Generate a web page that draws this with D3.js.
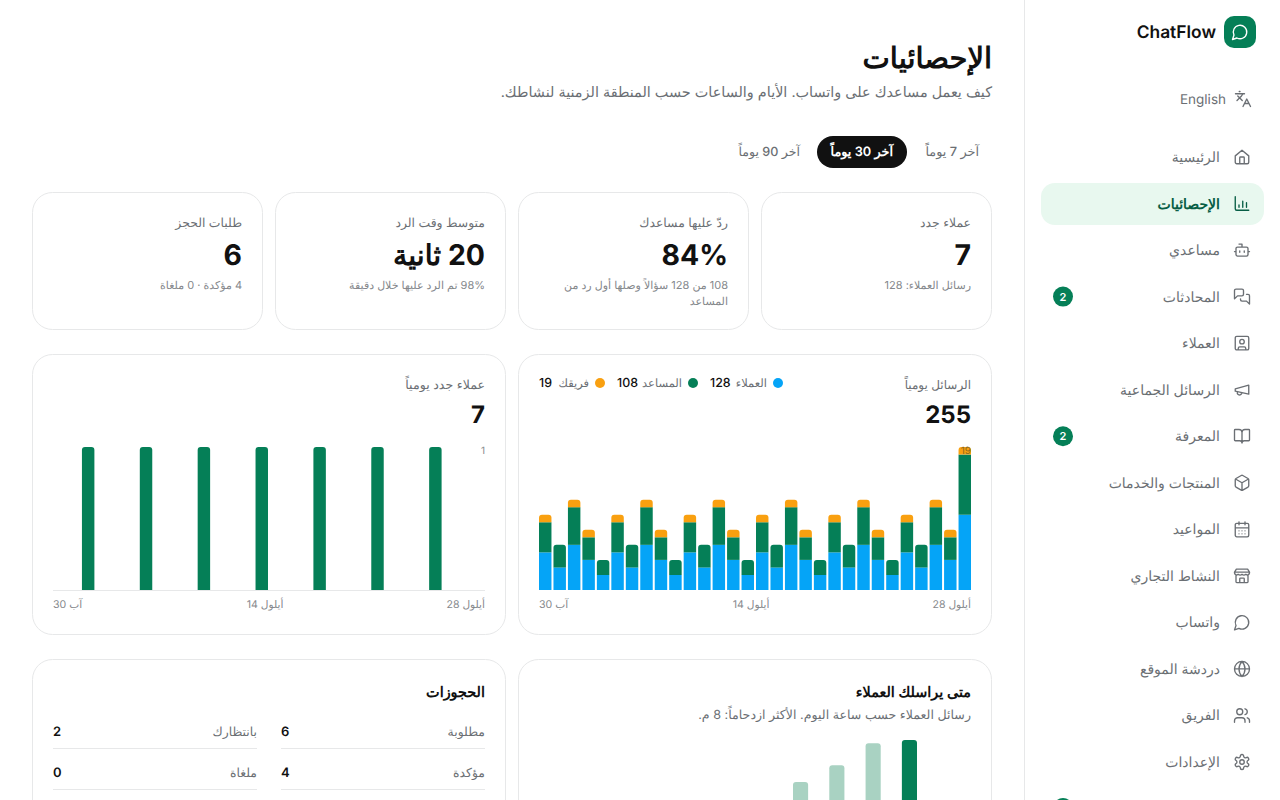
<!DOCTYPE html>
<html lang="ar"><head><meta charset="utf-8">
<script src="https://cdn.jsdelivr.net/npm/d3@7/dist/d3.min.js"></script>
<style>
html,body{margin:0;padding:0;width:1280px;height:800px;overflow:hidden;background:#fff}
#stage{display:block}
text{font-family:Inter,"Noto Sans",sans-serif;text-rendering:geometricPrecision}
</style></head><body><svg id="stage" width="1280" height="800" viewBox="0 0 1280 800"></svg>
<script>
// ---- data ----
const customers=[5,3,6,4,2,5,3,6,4,2,5,3,6,4,2,5,3,6,4,2,5,3,6,4,2,5,3,6,4,10];
const assistant=[4,3,5,3,2,4,3,5,3,2,4,3,5,3,2,4,3,5,3,2,4,3,5,3,2,4,3,5,3,8];
const team=[1,0,1,1,0,1,0,1,1,0,1,0,1,1,0,1,0,1,1,0,1,0,1,1,0,1,0,1,1,1];
const newCustomers=[0,0,1,0,0,0,1,0,0,0,1,0,0,0,1,0,0,0,1,0,0,0,1,0,0,0,1,0,0,0];
const dateTicks=["آب 30","أيلول 14","أيلول 28"];
const hourBars=[0.3,0.58,0.945,1];
const navLabels=["الرئيسية","الإحصائيات","مساعدي","المحادثات","العملاء","الرسائل الجماعية","المعرفة","المنتجات والخدمات","المواعيد","النشاط التجاري","واتساب","دردشة الموقع","الفريق","الإعدادات"];
const navBadges=[null,null,null,2,null,null,2,null,null,null,null,null,null,null];
const ranges=["آخر 7 يوماً","آخر 30 يوماً","آخر 90 يوماً"];
const legendNames=["العملاء","المساعد","فريقك"];
const legendValues=[128,108,19];
const bookingLabels=["مطلوبة","بانتظارك","مؤكدة","ملغاة"];
const bookingValues=[6,2,4,0];

const INK="#111111",MUTED="#6b6f74",SOFT="#85888c",BORDER="#e7e8e9",GREEN="#057f57",BLUE="#05a4f7",ORANGE="#f9a010";
const svg=d3.select("#stage");
// Arabic text: x is the right edge
function ar(x,y,s,size,fill,weight){
  return svg.append("text").attr("x",x).attr("y",y).attr("direction","rtl").attr("text-anchor","start")
    .attr("font-size",size).attr("fill",fill).attr("font-weight",weight||400).text(s);
}
// Latin or digit text with a chosen anchor
function lt(x,y,s,size,fill,weight,anchor){
  return svg.append("text").attr("x",x).attr("y",y).attr("direction","ltr").attr("text-anchor",anchor||"end")
    .attr("font-size",size).attr("fill",fill).attr("font-weight",weight||400).text(s);
}
function card(x,y,w,h,r){svg.append("rect").attr("x",x+.5).attr("y",y+.5).attr("width",w-1).attr("height",h-1).attr("rx",r||20).attr("fill","#fff").attr("stroke",BORDER);}
function topRound(x,y,w,h,r){r=Math.min(r,h);return `M${x},${y+h}V${y+r}Q${x},${y} ${x+r},${y}H${x+w-r}Q${x+w},${y} ${x+w},${y+r}V${y+h}Z`;}

// icons, 24-unit outline glyphs
const icons=[
 "M3 10.5 12 3l9 7.5V19a2 2 0 0 1-2 2H5a2 2 0 0 1-2-2ZM9 21v-8a1 1 0 0 1 1-1h4a1 1 0 0 1 1 1v8",
 "M3 3v16a2 2 0 0 0 2 2h16M8 17v-3M13 17V9M18 17v-6",
 "M12 8V4H8M6 8h12a2 2 0 0 1 2 2v8a2 2 0 0 1-2 2H6a2 2 0 0 1-2-2v-8a2 2 0 0 1 2-2ZM2 14h2M20 14h2M15 13v2M9 13v2",
 "M14 9a2 2 0 0 1-2 2H6l-4 4V4a2 2 0 0 1 2-2h8a2 2 0 0 1 2 2ZM18 9h2a2 2 0 0 1 2 2v11l-4-4h-6a2 2 0 0 1-2-2v-1",
 "M5 3h14a2 2 0 0 1 2 2v14a2 2 0 0 1-2 2H5a2 2 0 0 1-2-2V5a2 2 0 0 1 2-2ZM7 21v-2a2 2 0 0 1 2-2h6a2 2 0 0 1 2 2v2M12 7a3 3 0 1 0 0 6 3 3 0 0 0 0-6Z",
 "M3 11l18-5v12L3 14ZM11.6 16.8a3 3 0 1 1-5.8-1.6",
 "M12 7v14M3 18a1 1 0 0 1-1-1V4a1 1 0 0 1 1-1h5a4 4 0 0 1 4 4 4 4 0 0 1 4-4h5a1 1 0 0 1 1 1v13a1 1 0 0 1-1 1h-6a3 3 0 0 0-3 3 3 3 0 0 0-3-3Z",
 "M21 8a2 2 0 0 0-1-1.73l-7-4a2 2 0 0 0-2 0l-7 4A2 2 0 0 0 3 8v8a2 2 0 0 0 1 1.73l7 4a2 2 0 0 0 2 0l7-4A2 2 0 0 0 21 16ZM3.3 7 12 12l8.7-5M12 22V12",
 "M8 2v4M16 2v4M5 4h14a2 2 0 0 1 2 2v14a2 2 0 0 1-2 2H5a2 2 0 0 1-2-2V6a2 2 0 0 1 2-2ZM3 10h18M8 14h.01M12 14h.01M16 14h.01M8 18h.01M12 18h.01M16 18h.01",
 "M2 7l2.5-4h15L22 7v1a3 3 0 0 1-5 2 3.5 3.5 0 0 1-5 0 3.5 3.5 0 0 1-5 0 3 3 0 0 1-5-2ZM4 11v9a1 1 0 0 0 1 1h14a1 1 0 0 0 1-1v-9M9 21v-5a1 1 0 0 1 1-1h4a1 1 0 0 1 1 1v5M2 7h20",
 "M7.9 20A9 9 0 1 0 4 16.1L2 22Z",
 "M12 2a10 10 0 1 0 0 20 10 10 0 0 0 0-20ZM12 2a14.5 14.5 0 0 0 0 20 14.5 14.5 0 0 0 0-20ZM2 12h20",
 "M16 21v-2a4 4 0 0 0-4-4H6a4 4 0 0 0-4 4v2M9 3a4 4 0 1 0 0 8 4 4 0 0 0 0-8ZM22 21v-2a4 4 0 0 0-3-3.87M16 3.13a4 4 0 0 1 0 7.75",
 "M12.2 2h-.4a2 2 0 0 0-2 2v.2a2 2 0 0 1-1 1.7l-.4.3a2 2 0 0 1-2 0l-.2-.1a2 2 0 0 0-2.7.7l-.2.4a2 2 0 0 0 .7 2.7l.2.1a2 2 0 0 1 1 1.7v.6a2 2 0 0 1-1 1.7l-.2.1a2 2 0 0 0-.7 2.7l.2.4a2 2 0 0 0 2.7.7l.2-.1a2 2 0 0 1 2 0l.4.3a2 2 0 0 1 1 1.7v.2a2 2 0 0 0 2 2h.4a2 2 0 0 0 2-2v-.2a2 2 0 0 1 1-1.7l.4-.3a2 2 0 0 1 2 0l.2.1a2 2 0 0 0 2.7-.7l.2-.4a2 2 0 0 0-.7-2.7l-.2-.1a2 2 0 0 1-1-1.7v-.6a2 2 0 0 1 1-1.7l.2-.1a2 2 0 0 0 .7-2.7l-.2-.4a2 2 0 0 0-2.7-.7l-.2.1a2 2 0 0 1-2 0l-.4-.3a2 2 0 0 1-1-1.7V4a2 2 0 0 0-2-2ZM12 9a3 3 0 1 0 0 6 3 3 0 0 0 0-6Z"
];
function icon(d,cx,cy,color){
  svg.append("path").attr("d",d).attr("transform",`translate(${cx-9},${cy-9}) scale(.75)`)
    .attr("fill","none").attr("stroke",color).attr("stroke-width",1.8).attr("stroke-linecap","round").attr("stroke-linejoin","round");
}

// sidebar
svg.append("line").attr("x1",1024.5).attr("x2",1024.5).attr("y1",0).attr("y2",800).attr("stroke",BORDER);
svg.append("rect").attr("x",1224).attr("y",16).attr("width",32).attr("height",32).attr("rx",10).attr("fill",GREEN);
icon(icons[10],1240,32,"#fff");
lt(1216,38,"ChatFlow",17.4,INK,600);
lt(1226,104,"English",13.5,MUTED,400);
svg.append("path").attr("d","M5 8l6 6M4 14l6-6 2-3M2 5h12M7 2h1M22 22l-5-10-5 10M14 18h6").attr("transform","translate(1234,90) scale(.75)")
  .attr("fill","none").attr("stroke",MUTED).attr("stroke-width",1.8).attr("stroke-linecap","round").attr("stroke-linejoin","round");
svg.append("rect").attr("x",1041).attr("y",183).attr("width",223).attr("height",42).attr("rx",14).attr("fill","#e8f8ef");
const navY=d3.scalePoint().domain(d3.range(navLabels.length)).range([157,762]);
navLabels.forEach((s,i)=>{
  const y=navY(i),on=i===1;
  ar(1220,y+5,s,14,on?"#075e45":MUTED,on?600:400);
  icon(icons[i],1242,y,on?"#075e45":MUTED);
  if(navBadges[i]){
    svg.append("circle").attr("cx",1063).attr("cy",y).attr("r",10).attr("fill",GREEN);
    lt(1063,y+4,navBadges[i],11,"#fff",600,"middle");
  }
});
svg.append("circle").attr("cx",1063).attr("cy",808).attr("r",10).attr("fill",GREEN);

// header
ar(992,68,"الإحصائيات",29,INK,700);
ar(992,97,"كيف يعمل مساعدك على واتساب. الأيام والساعات حسب المنطقة الزمنية لنشاطك.",14.4,MUTED);
svg.append("rect").attr("x",817).attr("y",136).attr("width",90).attr("height",32).attr("rx",16).attr("fill",INK);
ar(979,156,ranges[0],12.8,MUTED,500);
ar(893,156,ranges[1],12.8,"#fff",600);
ar(800,156,ranges[2],12.6,MUTED,500);

// stat cards
[[761,231,"عملاء جدد","7",["رسائل العملاء: 128"]],
 [518,231,"ردّ عليها مساعدك","84%",["108 من 128 سؤالاً وصلها أول رد من","المساعد"]],
 [275,231,"متوسط وقت الرد","20 ثانية",["98% تم الرد عليها خلال دقيقة"]],
 [32,231,"طلبات الحجز","6",["4 مؤكدة · 0 ملغاة"]]].forEach(([x,w,t,v,sub])=>{
  card(x,192,w,138);
  const r=x+w-21;
  ar(r,227,t,12.4,MUTED);
  ar(r,265,v,28.4,INK,700);
  sub.forEach((l,i)=>ar(r,289+i*16,l,11,SOFT));
});

// chart cards
card(518,354,474,281);card(32,354,474,281);
const plotTop=447,plotBottom=590;
const y=d3.scaleLinear().domain([0,19]).range([plotBottom,plotTop]);
function xBand(a,b){return d3.scaleBand().domain(d3.range(30)).range([a,b]).paddingInner(2/14.4).paddingOuter(0);}

// messages chart
ar(971,389,"الرسائل يومياً",12,MUTED);
lt(971,423,"255",24,INK,700);
const legX=[783,698,605];
const legValX=[710,617,539];
legendNames.forEach((n,i)=>{
  const c=[BLUE,GREEN,ORANGE][i];
  svg.append("circle").attr("cx",legX[i]-5).attr("cy",383).attr("r",5).attr("fill",c);
  ar(legX[i]-16,387,n,11.5,MUTED);
  lt(legValX[i],387,legendValues[i],12.4,INK,500,"start");
});
const x1=xBand(539,971);
const gStack=svg.append("g");
customers.forEach((c,i)=>{
  const a=assistant[i],t=team[i],bw=x1.bandwidth(),bx=x1(i);
  gStack.append("rect").attr("x",bx).attr("y",y(c)).attr("width",bw).attr("height",y(0)-y(c)).attr("fill",BLUE);
  const h2=y(0)-y(a),y2=y(c+a);
  if(t>0){
    gStack.append("rect").attr("x",bx).attr("y",y2).attr("width",bw).attr("height",h2).attr("fill",GREEN);
    gStack.append("path").attr("d",topRound(bx,y(c+a+t),bw,y(0)-y(t),3)).attr("fill",ORANGE);
  } else {
    gStack.append("path").attr("d",topRound(bx,y2,bw,h2,3)).attr("fill",GREEN);
  }
});
lt(971,454,"19",10,"#8a6a20",400);
function dateAxis(l,m,r){
  svg.append("text").attr("x",l).attr("y",608).attr("direction","rtl").attr("text-anchor","end").attr("font-size",10.6).attr("fill",SOFT).text(dateTicks[0]);
  svg.append("text").attr("x",m).attr("y",608).attr("direction","rtl").attr("text-anchor","middle").attr("font-size",10.6).attr("fill",SOFT).text(dateTicks[1]);
  svg.append("text").attr("x",r).attr("y",608).attr("direction","rtl").attr("text-anchor","start").attr("font-size",10.6).attr("fill",SOFT).text(dateTicks[2]);
}
dateAxis(539,751,971);

// new customers chart
ar(485,389,"عملاء جدد يومياً",12.6,MUTED);
lt(485,423,"7",24,INK,700);
const x2=xBand(53,485);
const y2=d3.scaleLinear().domain([0,1]).range([plotBottom,plotTop]);
svg.append("line").attr("x1",53).attr("x2",485).attr("y1",590.5).attr("y2",590.5).attr("stroke",BORDER);
svg.append("g").selectAll("path").data(newCustomers.map((v,i)=>[v,i]).filter(d=>d[0]>0)).join("path")
 .attr("d",d=>topRound(x2(d[1]),y2(d[0]),x2.bandwidth(),y2(0)-y2(d[0]),3)).attr("fill",GREEN);
lt(485,454,"1",10,SOFT,400);
dateAxis(53,265,485);

// bottom cards
card(518,659,474,200);card(32,659,474,200);
ar(971,697,"متى يراسلك العملاء",14.4,INK,600);
ar(971,719,"رسائل العملاء حسب ساعة اليوم. الأكثر ازدحاماً: 8 م.",12.6,MUTED);
const hx=d3.scaleBand().domain(d3.range(4)).range([793,917]).paddingInner(21/36);
const hy=d3.scaleLinear().domain([0,1]).range([800,740]);
hourBars.forEach((v,i)=>{
  svg.append("path").attr("d",topRound(hx(i),hy(v),hx.bandwidth(),800-hy(v),3)).attr("fill",i===3?GREEN:"#a9d2c2");
});
ar(485,697,"الحجوزات",14.4,INK,600);
[[485,736,0],[257,736,1],[485,777,2],[257,777,3]].forEach(([r,yy,i])=>{
  ar(r,yy,bookingLabels[i],12.4,MUTED);
  const l=r===485?281:53;
  lt(l,yy,bookingValues[i],13,INK,600,"start");
  svg.append("line").attr("x1",l).attr("x2",r).attr("y1",yy+12.5).attr("y2",yy+12.5).attr("stroke",BORDER);
});
</script></body></html>
